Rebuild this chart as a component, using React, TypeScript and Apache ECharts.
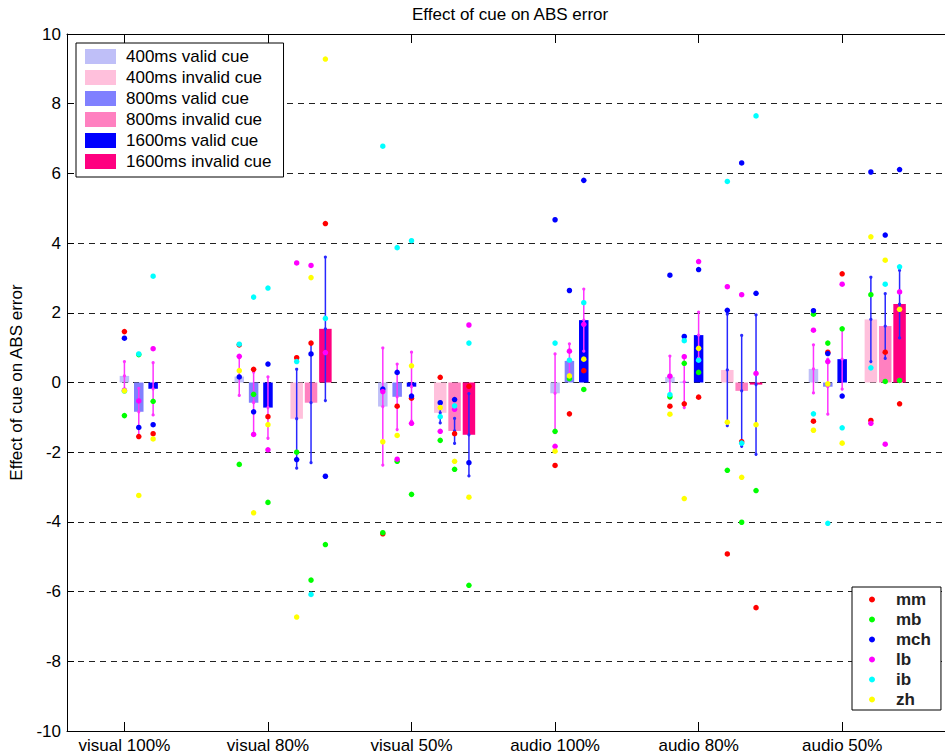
import React, { useEffect, useRef } from "react";
import * as echarts from "echarts";

const FONT = "'Liberation Sans', Arial, sans-serif";

const categories = ["visual 100%", "visual 80%", "visual 50%", "audio 100%", "audio 80%", "audio 50%"];

// bar means (effect of cue), per category; null = no invalid trials
const valid400 = [0.19, 0.17, -0.69, -0.31, 0.16, 0.39];
const valid800 = [-0.84, -0.58, -0.41, 0.62, 0.02, -0.12];
const valid1600 = [-0.18, -0.72, -0.12, 1.79, 1.36, 0.67];
const invalid400 = [null, -1.04, -0.87, null, 0.36, 1.81];
const invalid800 = [null, -0.58, -1.39, null, -0.24, 1.62];
const invalid1600 = [null, 1.54, -1.5, null, -0.06, 2.25];

// error bar half-lengths
const err400v = [0.41, 0.54, 1.68, 1.13, 0.6, 0.69];
const err800v = [0.67, 0.88, 0.94, 0.49, 0.74, 0.79];
const err1600v = [0.75, 0.88, 0.99, 0.89, 0.66, 0.86];
const err400i = [null, 1.42, 0.29, null, 1.6, 1.21];
const err800i = [null, 1.72, 0.36, null, 1.59, 0.93];
const err1600i = [null, 2.06, 1.18, null, 2.0, 0.97];

// subject values: per category [400v, 800v, 1600v, 400i, 800i, 1600i]
const mm = [
  [1.46, -1.55, -1.47],
  [1.08, 0.38, -0.98, 0.71, 1.13, 4.56],
  [-4.34, -0.68, -0.45, 0.15, -1.47, -0.11],
  [-2.38, -0.9, 0.34],
  [-0.68, -0.61, -0.42, -4.92, -1.7, -6.46],
  [-1.11, 0.87, 3.12, -1.09, 0.87, -0.61],
];
const mb = [
  [-0.95, 0.8, -0.54],
  [-2.35, -0.34, -3.44, -2.0, -5.67, -4.65],
  [-4.31, -2.26, -3.21, -1.66, -2.49, -5.82],
  [-1.4, 0.11, -0.2],
  [-0.41, 0.55, 0.29, -2.52, -4.01, -3.1],
  [1.96, 1.13, 1.54, 2.52, 0.03, 0.06],
];
const mch = [
  [1.27, -1.29, -1.21],
  [0.16, -0.84, 0.53, -2.21, 0.82, -2.69],
  [-0.19, 0.29, -0.39, -0.58, -0.49, -2.3],
  [4.67, 2.64, 5.8],
  [3.08, 1.32, 3.24, 2.07, 6.3, 2.56],
  [2.06, 0.83, -0.39, 6.04, 4.23, 6.11],
];
const lb = [
  [-0.22, -0.53, 0.97],
  [0.75, -1.49, -1.93, 3.43, 3.36, 0.86],
  [-0.26, -2.2, -1.17, -1.4, -0.77, 1.65],
  [-1.83, 0.9, 1.67],
  [0.18, 0.74, 3.47, 2.75, 2.52, 0.26],
  [1.5, 0.6, 2.82, -1.17, -1.77, 2.6],
];
const ib = [
  [-0.25, 0.82, 3.05],
  [1.1, 2.45, 2.71, 0.6, -6.08, 1.84],
  [6.78, 3.87, 4.07, -0.98, -0.67, 1.13],
  [1.13, 0.64, 2.29],
  [-0.35, 1.2, 0.64, 5.77, -1.74, 7.65],
  [-0.9, -4.04, -1.3, 0.42, 2.82, 3.32],
];
const zh = [
  [-0.24, -3.24, -1.62],
  [0.34, -3.74, -1.21, -6.73, 3.01, 9.28],
  [-1.7, -1.52, 0.48, -0.72, -2.26, -3.29],
  [-1.97, 0.19, 0.67],
  [-0.91, -3.33, 0.98, -1.14, -2.72, -1.21],
  [-1.37, -0.04, -1.74, 4.18, 3.51, 2.1],
];

const yTicks = [-10, -8, -6, -4, -2, 0, 2, 4, 6, 8, 10];

const conditions = [
  { name: "400ms valid cue", valid: true, rank: 0, means: valid400, errs: err400v, color: "#bfbff8" },
  { name: "400ms invalid cue", valid: false, rank: 0, means: invalid400, errs: err400i, color: "#ffc0dc" },
  { name: "800ms valid cue", valid: true, rank: 1, means: valid800, errs: err800v, color: "#8080ff" },
  { name: "800ms invalid cue", valid: false, rank: 1, means: invalid800, errs: err800i, color: "#ff80c0" },
  { name: "1600ms valid cue", valid: true, rank: 2, means: valid1600, errs: err1600v, color: "#0000ff" },
  { name: "1600ms invalid cue", valid: false, rank: 2, means: invalid1600, errs: err1600i, color: "#ff0080" },
];

const subjects = [
  { name: "mm", values: mm, color: "#ff0000" },
  { name: "mb", values: mb, color: "#00ff00" },
  { name: "mch", values: mch, color: "#0000ff" },
  { name: "lb", values: lb, color: "#ff00ff" },
  { name: "ib", values: ib, color: "#00ffff" },
  { name: "zh", values: zh, color: "#ffff00" },
];

const hasInvalid = (ci: number) => invalid400[ci] !== null;
const xPos = (ci: number, valid: boolean, rank: number) => {
  const base = ci + 1;
  if (!hasInvalid(ci)) return base + 0.1 * rank;
  return valid ? base - 0.2 + 0.1 * rank : base + 0.2 + 0.1 * rank;
};

export default function App() {
  const ref = useRef<HTMLDivElement>(null);
  useEffect(() => {
    if (!ref.current) return;
    const chart = echarts.init(ref.current, undefined, { renderer: "svg" });

    const barSeries = conditions.map((c) => {
      const data: number[][] = [];
      c.means.forEach((m, ci) => {
        if (m !== null) data.push([xPos(ci, c.valid, c.rank), m as number]);
      });
      const w = c.valid ? 9.5 : 12.5;
      return {
        name: c.name,
        type: "custom",
        z: 2,
        itemStyle: { color: c.color },
        data,
        renderItem: (params: any, api: any) => {
          const x = api.value(0);
          const v = api.value(1);
          const p0 = api.coord([x, 0]);
          const p1 = api.coord([x, v]);
          return {
            type: "rect",
            shape: { x: p0[0] - w / 2, y: Math.min(p0[1], p1[1]), width: w, height: Math.abs(p1[1] - p0[1]) },
            style: { fill: c.color },
          };
        },
      };
    });

    const errSeries = conditions.map((c) => {
      const data: number[][] = [];
      c.means.forEach((m, ci) => {
        if (m !== null) data.push([xPos(ci, c.valid, c.rank), m as number, c.errs[ci] as number]);
      });
      const col = c.valid ? "#ff33ff" : "#2828ff";
      return {
        name: "err " + c.name,
        type: "custom",
        z: 3,
        data,
        renderItem: (params: any, api: any) => {
          const x = api.value(0);
          const m = api.value(1);
          const e = api.value(2);
          const t = api.coord([x, m + e]);
          const mid = api.coord([x, m]);
          const b = api.coord([x, m - e]);
          return {
            type: "group",
            children: [
              { type: "line", shape: { x1: t[0], y1: t[1], x2: b[0], y2: b[1] }, style: { stroke: col, lineWidth: 1.5 } },
              { type: "circle", shape: { cx: t[0], cy: t[1], r: 1.6 }, style: { fill: col } },
              { type: "circle", shape: { cx: mid[0], cy: mid[1], r: 1.6 }, style: { fill: col } },
              { type: "circle", shape: { cx: b[0], cy: b[1], r: 1.6 }, style: { fill: col } },
            ],
          };
        },
      };
    });

    const dotSeries = subjects.map((s) => {
      const data: number[][] = [];
      s.values.forEach((arr, ci) => {
        conditions.forEach((c) => {
          const idx = c.valid ? c.rank : 3 + c.rank;
          const v = arr[idx];
          if (v !== undefined && v !== null) data.push([xPos(ci, c.valid, c.rank), v]);
        });
      });
      return {
        name: s.name,
        type: "scatter",
        z: 4,
        symbol: "circle",
        symbolSize: 5.5,
        itemStyle: { color: s.color, opacity: 1 },
        data,
      };
    });

    const catVals = categories.map((_, i) => i + 1);

    chart.setOption({
      animation: false,
      backgroundColor: "#ffffff",
      textStyle: { fontFamily: FONT },
      title: {
        text: "Effect of cue on ABS error",
        left: 412,
        top: 6,
        padding: 0,
        textStyle: { fontSize: 17, fontWeight: "normal", color: "#000", fontFamily: FONT },
      },
      grid: { left: 67, top: 34, width: 890, height: 697, outerBoundsMode: "none" },
      xAxis: [
        {
          type: "value",
          min: 0.6,
          max: 6.8,
          position: "bottom",
          axisLine: { show: true, onZero: false, lineStyle: { color: "#000", width: 1 } },
          axisTick: { show: true, inside: true, length: 9, customValues: catVals, lineStyle: { color: "#000" } },
          axisLabel: {
            customValues: catVals,
            formatter: (v: number) => categories[Math.round(v) - 1] ?? "",
            fontSize: 17,
            color: "#000",
            margin: 6,
            fontFamily: FONT,
          },
          splitLine: { show: false },
        },
        {
          type: "value",
          min: 0.6,
          max: 6.8,
          position: "top",
          axisLine: { show: true, onZero: false, lineStyle: { color: "#000", width: 1 } },
          axisTick: { show: true, inside: true, length: 9, customValues: catVals, lineStyle: { color: "#000" } },
          axisLabel: { show: false },
          splitLine: { show: false },
        },
      ],
      yAxis: {
        type: "value",
        min: yTicks[0],
        max: yTicks[yTicks.length - 1],
        interval: 2,
        name: "Effect of cue on ABS error",
        nameLocation: "middle",
        nameGap: 42,
        nameTextStyle: { fontSize: 17, color: "#000", fontFamily: FONT },
        axisLine: { show: true, onZero: false, lineStyle: { color: "#000", width: 1 } },
        axisTick: { show: true, inside: true, length: 7, lineStyle: { color: "#000" } },
        axisLabel: { fontSize: 17, color: "#000", margin: 6, fontFamily: FONT },
        splitLine: { show: true, lineStyle: { color: "#222", type: [6, 5], width: 1 } },
      },
      legend: [
        {
          data: conditions.map((c) => c.name),
          orient: "vertical",
          left: 76,
          top: 43,
          icon: "rect",
          itemWidth: 31,
          itemHeight: 15,
          itemGap: 4,
          padding: [5, 12, 7, 9],
          borderColor: "#000",
          borderWidth: 1,
          backgroundColor: "#fff",
          selectedMode: false,
          textStyle: { fontSize: 17, color: "#000", fontFamily: FONT, padding: [0, 0, 0, 5] },
        },
        {
          data: subjects.map((s) => s.name),
          orient: "vertical",
          left: 852,
          top: 587,
          icon: "circle",
          itemWidth: 6,
          itemHeight: 6,
          itemGap: 3,
          padding: [4, 10, 2, 17],
          borderColor: "#000",
          borderWidth: 1,
          backgroundColor: "#fff",
          selectedMode: false,
          textStyle: { fontSize: 17, fontWeight: "bold", color: "#222", fontFamily: FONT, padding: [0, 0, 0, 16] },
        },
      ],
      series: [...barSeries, ...errSeries, ...dotSeries],
    });
    return () => chart.dispose();
  }, []);
  return <div ref={ref} style={{ position: "absolute", left: 0, top: 0, width: 945, height: 756 }} />;
}
